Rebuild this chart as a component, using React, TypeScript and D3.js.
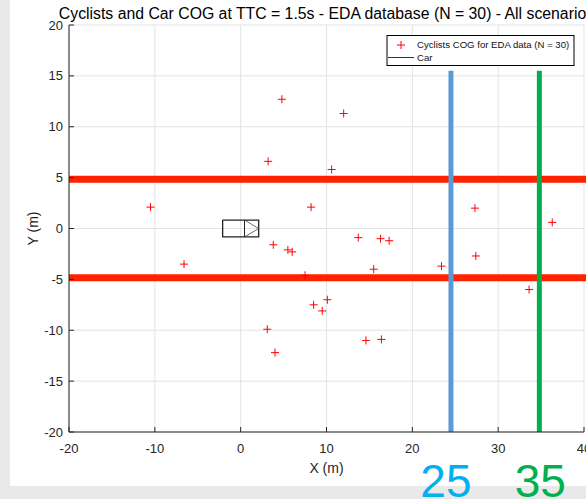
import * as d3 from "d3";

// cyclist centre-of-gravity positions (m)
const cyclistX = [4.8, 12.0, 3.2, 10.6, -10.5, 8.2, 13.7, 3.8, 5.5, 6.0, -6.6, 7.5,
  27.3, 36.3, 16.3, 17.3, 27.4, 23.4, 15.5, 33.6, 10.1, 8.5, 9.5, 3.1, 14.6, 16.4, 4.0];
const cyclistY = [12.7, 11.3, 6.6, 5.8, 2.1, 2.1, -0.9, -1.6, -2.1, -2.3, -3.5, -4.6,
  2.0, 0.6, -1.0, -1.2, -2.7, -3.7, -4.0, -6.0, -7.0, -7.5, -8.1, -9.9, -11.0, -10.9, -12.2];

// car outline (m): body rectangle, front divider, arrow
const carX = [-2.1, 2.1, 2.1, -2.1, -2.1];
const carY = [0.83, 0.83, -0.83, -0.83, 0.83];
const carDivX = [0.45, 0.45];
const carDivY = [0.83, -0.83];
const carArrowX = [0.45, 2.1, 0.45];
const carArrowY = [0.83, 0, -0.83];

// lane limits and distance markers
const laneY = [4.85, -4.85];
const markerX = [24.5, 34.8];
const markerTop = 15.5;
const markerLabels = ["25", "35"];

const xTicks = [-20, -10, 0, 10, 20, 30, 40];
const yTicks = [20, 15, 10, 5, 0, -5, -10, -15, -20];

const title = "Cyclists and Car COG at TTC = 1.5s - EDA database (N = 30) - All scenarios";
const legendLabels = ["Cyclists COG for EDA data (N = 30)", "Car"];

export default function App() {
  const W = 586, H = 499;
  const x = d3.scaleLinear().domain([-20, 40]).range([69, 584]);
  const y = d3.scaleLinear().domain([-20, 20]).range([432, 25]);
  const font = "'Liberation Sans', Arial, Helvetica, sans-serif";
  const axisColor = "#262626";

  const line = d3.line<[number, number]>().x(d => x(d[0])).y(d => y(d[1]));
  const zip = (a: number[], b: number[]) => a.map((v, i) => [v, b[i]] as [number, number]);

  const markerColors = ["#5b9bd5", "#00b050"];
  const labelColors = ["#00b0f0", "#00b050"];

  return (
    <svg width={W} height={H} style={{ position: "absolute", left: 0, top: 0 }} fontFamily={font}>
      <rect x={0} y={0} width={W} height={H} fill="#e9e9e9" />
      <rect x={10} y={0} width={W - 10} height={486} fill="#fff" />

      {/* grid */}
      {xTicks.map(t => (
        <line key={"gx" + t} x1={x(t)} x2={x(t)} y1={y(20)} y2={y(-20)} stroke="#e3e3e3" strokeWidth={1} />
      ))}
      {yTicks.map(t => (
        <line key={"gy" + t} x1={x(-20)} x2={x(40)} y1={y(t)} y2={y(t)} stroke="#e3e3e3" strokeWidth={1} />
      ))}

      {/* lane borders */}
      {laneY.map(v => (
        <line key={"l" + v} x1={x(-20)} x2={W} y1={y(v)} y2={y(v)} stroke="#ff2200" strokeWidth={7} />
      ))}

      {/* distance markers */}
      {markerX.map((v, i) => (
        <line key={"m" + v} x1={x(v)} x2={x(v)} y1={y(markerTop)} y2={y(-20)} stroke={markerColors[i]} strokeWidth={5} />
      ))}

      {/* car */}
      <path d={line(zip(carX, carY)) ?? ""} fill="none" stroke="#222" strokeWidth={1.3} />
      <path d={line(zip(carDivX, carDivY)) ?? ""} fill="none" stroke="#222" strokeWidth={1} />
      <path d={line(zip(carArrowX, carArrowY)) ?? ""} fill="none" stroke="#444" strokeWidth={0.8} />

      {/* cyclists */}
      {cyclistX.map((cx, i) => {
        const px = x(cx), py = y(cyclistY[i]);
        return (
          <path key={"c" + i} d={`M${px - 4},${py}H${px + 4}M${px},${py - 4}V${py + 4}`} stroke="#ff0000" strokeWidth={1} />
        );
      })}

      {/* axes */}
      <line x1={x(-20)} x2={x(-20)} y1={y(20)} y2={y(-20)} stroke={axisColor} strokeWidth={1} />
      <line x1={x(-20)} x2={x(40)} y1={y(-20)} y2={y(-20)} stroke={axisColor} strokeWidth={1} />
      {xTicks.map(t => (
        <g key={"xt" + t}>
          <line x1={x(t)} x2={x(t)} y1={y(-20)} y2={y(-20) - 5} stroke={axisColor} />
          <text x={x(t)} y={453} textAnchor="middle" fontSize={13} fill={axisColor}>{t}</text>
        </g>
      ))}
      {yTicks.map(t => (
        <g key={"yt" + t}>
          <line x1={x(-20)} x2={x(-20) + 5} y1={y(t)} y2={y(t)} stroke={axisColor} />
          <text x={63} y={y(t)} dy="0.35em" textAnchor="end" fontSize={13} fill={axisColor}>{t}</text>
        </g>
      ))}

      <text x={(x(-20) + x(40)) / 2} y={473} textAnchor="middle" fontSize={14} fill={axisColor}>X (m)</text>
      <text transform={`translate(38,${y(0)}) rotate(-90)`} textAnchor="middle" fontSize={14} fill={axisColor}>Y (m)</text>
      <text x={(x(-20) + x(40)) / 2} y={18.5} textAnchor="middle" fontSize={15.8} fill="#000">{title}</text>

      {/* legend */}
      <g>
        <rect x={387} y={35.5} width={187} height={30} fill="#fff" stroke="#000" strokeWidth={1} />
        <path d="M397,45H405M401,41V49" stroke="#ff0000" strokeWidth={1} />
        <line x1={388} x2={414} y1={57.5} y2={57.5} stroke="#333" strokeWidth={1} />
        <text x={417} y={48} fontSize={9.6} fill="#111">{legendLabels[0]}</text>
        <text x={417} y={61} fontSize={9.6} fill="#111">{legendLabels[1]}</text>
      </g>

      {/* distance labels */}
      {markerX.map((v, i) => (
        <text key={"ml" + v} x={x(v) - 5 + i * 6} y={497} textAnchor="middle" fontSize={46} fill={labelColors[i]}>{markerLabels[i]}</text>
      ))}
    </svg>
  );
}
